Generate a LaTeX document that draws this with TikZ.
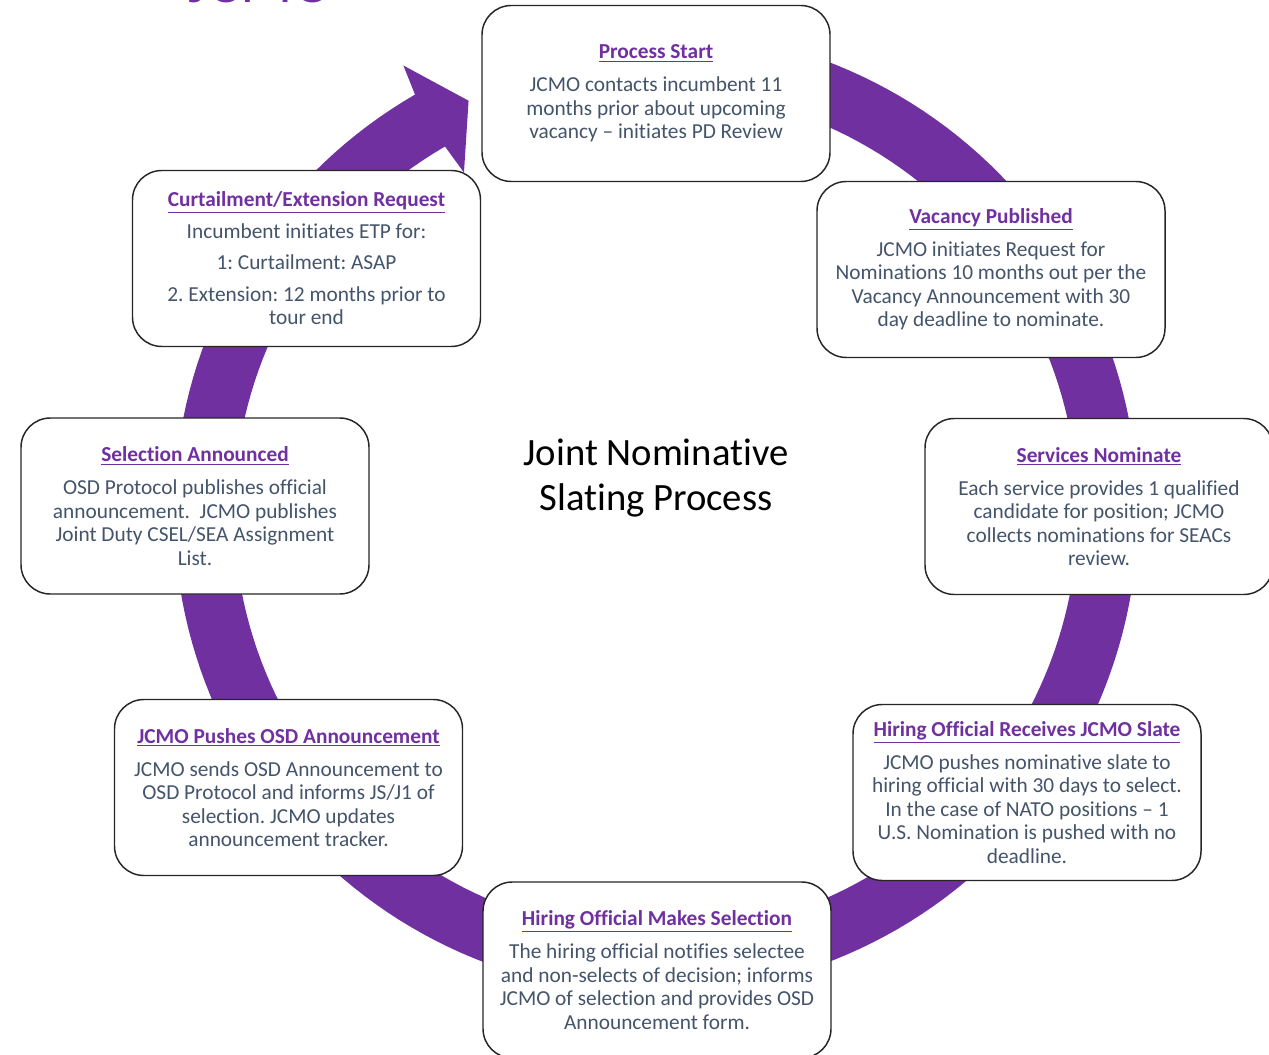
\documentclass[tikz,border=0pt]{standalone}
\usepackage{fontspec}
\setmainfont[Ligatures=NoCommon]{Carlito}
\definecolor{ringpurple}{HTML}{7030A0}
\definecolor{bodytext}{HTML}{44546A}
\tikzset{
  stepbox/.style={draw=black!85, line width=1.1pt, fill=white, rounded corners=22pt,
    minimum width=261pt, minimum height=132pt, inner sep=0pt, align=center,
    text=bodytext, font=\fontsize{16}{17.6}\selectfont},
  ringfill/.style={fill=ringpurple},
  centertitle/.style={align=center, text=black, font=\fontsize{29}{34}\selectfont},
}
\newcommand{\boxtitle}[1]{{\color{ringpurple}\bfseries\underline{#1}}}
\frenchspacing
\begin{document}
\begin{tikzpicture}[x=0.75pt,y=-0.75pt]
\clip (0,0) rectangle (1269,1055);
% circular arrow ring
\fill[ringfill]
  plot[domain=-95:240, samples=200] ({656+482*cos(\x)},{512+482*sin(\x)})
  -- ({656+513*cos(240.5)},{512+513*sin(240.5)})
  -- ({656+452*cos(245.5)},{512+452*sin(245.5)})
  -- ({656+390*cos(240.5)},{512+390*sin(240.5)})
  -- plot[domain=240:-95, samples=200] ({656+422*cos(\x)},{512+422*sin(\x)})
  -- cycle;

\node[stepbox] (start) at (656,93.5) {\boxtitle{Process Start}\\[7pt]
JCMO contacts incumbent 11\\
months prior about upcoming\\
vacancy -- initiates PD Review};

\node[stepbox] (vacancy) at (991,269.5) {\boxtitle{Vacancy Published}\\[7pt]
JCMO initiates Request for\\
Nominations 10 months out per the\\
Vacancy Announcement with 30\\
day deadline to nominate.};

\node[stepbox] (services) at (1099,506.5) {\boxtitle{Services Nominate}\\[7pt]
Each service provides 1 qualified\\
candidate for position; JCMO\\
collects nominations for SEACs\\
review.};

\node[stepbox] (slate) at (1027,792.5) {\boxtitle{Hiring Official Receives JCMO Slate}\\[7pt]
JCMO pushes nominative slate to\\
hiring official with 30 days to select.\\
In the case of NATO positions -- 1\\
U.S. Nomination is pushed with no\\
deadline.};

\node[stepbox] (selection) at (657,970) {\boxtitle{Hiring Official Makes Selection}\\[7pt]
The hiring official notifies selectee\\
and non-selects of decision; informs\\
JCMO of selection and provides OSD\\
Announcement form.};

\node[stepbox] (pushes) at (288.5,787.5) {\boxtitle{JCMO Pushes OSD Announcement}\\[7pt]
JCMO sends OSD Announcement to\\
OSD Protocol and informs JS/J1 of\\
selection. JCMO updates\\
announcement tracker.};

\node[stepbox] (announced) at (195,506) {\boxtitle{Selection Announced}\\[7pt]
OSD Protocol publishes official\\
announcement.\ \ JCMO publishes\\
Joint Duty CSEL/SEA Assignment\\
List.};

\node[stepbox] (curtail) at (306.5,258.5) {\boxtitle{Curtailment/Extension Request}\\[6pt]
Incumbent initiates ETP for:\\[6pt]
1: Curtailment: ASAP\\[6pt]
2. Extension: 12 months prior to\\
tour end};

\node[centertitle] (center) at (656,478) {Joint Nominative\\Slating Process};

\node[anchor=base west, text=ringpurple, font=\fontsize{46}{50}\selectfont, inner sep=0pt] (jcmo) at (188,3) {JCMO};
\end{tikzpicture}
\end{document}
